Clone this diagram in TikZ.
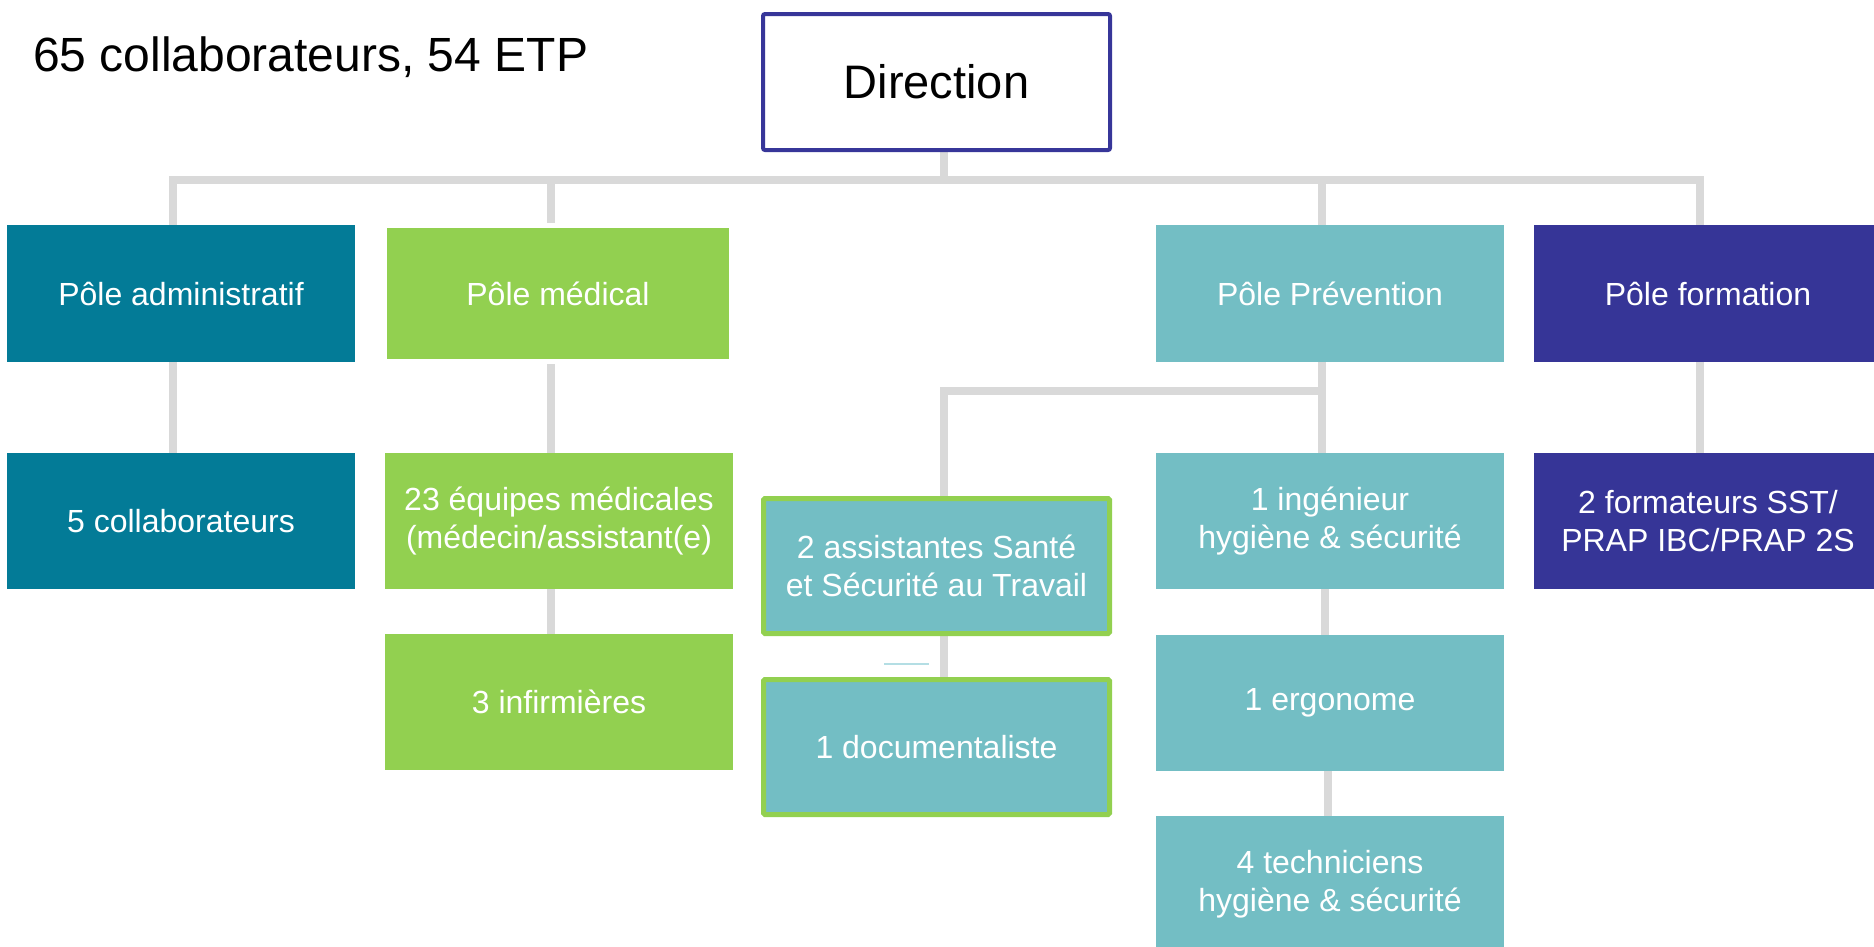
\documentclass[tikz,border=0pt]{standalone}
\usepackage{fontspec}
\setmainfont{Liberation Sans}
\usetikzlibrary{backgrounds}
\definecolor{cadmin}{RGB}{3,123,151}
\definecolor{cmed}{RGB}{146,208,80}
\definecolor{cprev}{RGB}{115,190,196}
\definecolor{cform}{RGB}{54,53,151}
\definecolor{cline}{RGB}{217,217,217}
\definecolor{cdir}{RGB}{55,54,153}
\definecolor{cblip}{RGB}{180,222,228}
\tikzset{
  box/.style={rectangle, inner sep=0pt, draw=none, text=white, align=center,
    font=\fontsize{32}{38}\selectfont, minimum width=348pt, minimum height=136pt},
  adminbox/.style={box, fill=cadmin},
  medbox/.style={box, fill=cmed},
  prevbox/.style={box, fill=cprev},
  formbox/.style={box, fill=cform},
  greenedge/.style={box, fill=cprev, draw=cmed, line width=5pt, rounded corners=1.5pt,
    minimum width=346pt, minimum height=135pt},
  dirbox/.style={rectangle, inner sep=0pt, draw=cdir, line width=4pt, fill=white,
    rounded corners=2pt, minimum width=347pt, minimum height=136pt,
    font=\fontsize{47}{56}\selectfont, text=black},
  conn/.style={draw=cline, line width=8pt, line join=miter, line cap=rect}
}
\begin{document}
\begin{tikzpicture}[x=1pt,y=-1pt]
\useasboundingbox (0,0) rectangle (1874,946);
\clip (0,0) rectangle (1874,946);

% title
\node[anchor=base west, inner sep=0pt, font=\fontsize{48}{56}\selectfont] (title) at (33,71) {65 collaborateurs, 54 ETP};

% top
\node[dirbox] (dir) at (936.5,82) {Direction};

% level 1
\node[adminbox, minimum height=137pt] (admin) at (181,293.5) {Pôle administratif};
\node[medbox, minimum width=342pt, minimum height=131pt] (med) at (558,293.5) {Pôle médical};
\node[prevbox, minimum height=137pt] (prev) at (1330,293.5) {Pôle Prévention};
\node[formbox, minimum height=137pt] (form) at (1708,293.5) {Pôle formation};

% level 2
\node[adminbox] (collab) at (181,521) {5 collaborateurs};
\node[medbox] (equipes) at (559,521) {23 équipes médicales\\(médecin/assistant(e)};
\node[medbox] (infirm) at (559,702) {3 infirmières};
\node[formbox] (formateurs) at (1708,521) {2 formateurs SST/\\PRAP IBC/PRAP 2S};

\node[greenedge] (assist) at (936.5,566) {2 assistantes Santé\\et Sécurité au Travail};
\node[greenedge] (doc) at (936.5,747) {1 documentaliste};

\node[prevbox] (ing) at (1330,521) {1 ingénieur\\hygiène \& sécurité};
\node[prevbox] (ergo) at (1330,703) {1 ergonome};
\node[prevbox] (tech) at (1330,884) {4 techniciens\\hygiène \& sécurité};

% junction points
\coordinate (jdir) at (944,180);
\coordinate (jA) at (173,180);
\coordinate (jM) at (551,180);
\coordinate (jP) at (1322,180);
\coordinate (jF) at (1700,180);
\coordinate (jS) at (1322,391);
\coordinate (jD) at (944,391);
\coordinate (jE) at (1325,600);
\coordinate (jT) at (1328,790);
\coordinate (mTop) at ([yshift=9pt]med.north);
\coordinate (mBot) at ([yshift=-9pt]med.south);
\coordinate (blipL) at (884,664);
\coordinate (blipR) at (929,664);

\begin{scope}[on background layer]
  \draw[conn] (dir.south -| jdir) -- (jdir);
  \draw[conn] (admin.north -| jA) -- (jA) -- (jF) -- (form.north -| jF);
  \draw[conn] (jM) -- (mTop -| jM);
  \draw[conn] (jP) -- (prev.north -| jP);
  \draw[conn] (admin.south -| jA) -- (collab.north -| jA);
  \draw[conn] (mBot -| jM) -- (equipes.north -| jM);
  \draw[conn] (equipes.south -| jM) -- (infirm.north -| jM);
  \draw[conn] (form.south -| jF) -- (formateurs.north -| jF);
  \draw[conn] (prev.south -| jS) -- (ing.north -| jS);
  \draw[conn] (jS) -- (jD) -- (assist.north -| jD);
  \draw[conn] (assist.south -| jD) -- (doc.north -| jD);
  \draw[conn] (ing.south -| jE) -- (ergo.north -| jE);
  \draw[conn] (ergo.south -| jT) -- (tech.north -| jT);
\end{scope}
\draw[cblip, line width=2pt] (blipL) -- (blipR);
\end{tikzpicture}
\end{document}
